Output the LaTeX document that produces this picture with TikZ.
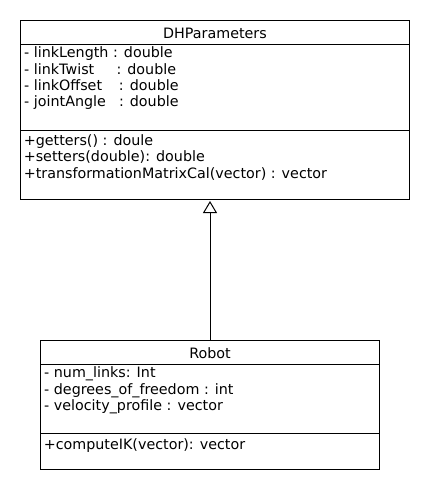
\documentclass[tikz,border=0pt]{standalone}
\usepackage{fontspec}
\setmainfont{DejaVu Sans}
\usetikzlibrary{arrows.meta}
\begin{document}
\begin{tikzpicture}[x=1pt,y=1pt,
  every node/.style={inner sep=0pt,outer sep=0pt,font=\fontsize{14.3}{16.3}\selectfont},
  classbox/.style={draw,line width=1pt,rectangle},
  txt/.style={anchor=base west},
  ttl/.style={anchor=base},
  sep/.style={line width=1pt},
  inherit/.style={line width=1pt,-{Triangle[open,length=12pt,width=14pt]},shorten >=1.7pt}]
\useasboundingbox (0,0) rectangle (430,-490);
% DHParameters
\node[classbox,minimum width=389pt,minimum height=178.6pt] (dh) at (215,-110) {};
\draw[sep] (20.5,-44.5) -- (409.5,-44.5);
\draw[sep] (20.5,-130.5) -- (409.5,-130.5);
\node[ttl] (dht) at (215,-38.3) {DHParameters};
\node[txt] (a1) at (24.2,-57.8) {- linkLength : double};
\node[txt] (a2) at (24.2,-74.1) {\makebox[92.3pt][l]{- linkTwist}: double};
\node[txt] (a3) at (24.2,-90.4) {\makebox[94.8pt][l]{- linkOffset}: double};
\node[txt] (a4) at (24.2,-106.7) {\makebox[94.8pt][l]{- jointAngle}: double};
\node[txt] (m1) at (23.8,-145.4) {+getters() : doule};
\node[txt] (m2) at (23.8,-161.7) {+setters(double): double};
\node[txt] (m3) at (23.8,-178.0) {+transformationMatrixCal(vector) : vector};
% Robot
\node[classbox,minimum width=339pt,minimum height=128.6pt] (robot) at (210,-405) {};
\draw[sep] (40.5,-364.5) -- (379.5,-364.5);
\draw[sep] (40.5,-433.5) -- (379.5,-433.5);
\node[ttl] (rt) at (210,-358.3) {Robot};
\node[txt] (r1) at (44.2,-377.7) {- num\_links: Int};
\node[txt] (r2) at (44.2,-394.0) {- degrees\_of\_freedom : int};
\node[txt] (r3) at (44.2,-410.3) {- velocity\_profile : vector};
\node[txt] (rm1) at (43.8,-449.0) {+computeIK(vector): vector};
% inheritance
\draw[inherit] (robot.north) -- (robot.north |- dh.south);
\end{tikzpicture}
\end{document}
